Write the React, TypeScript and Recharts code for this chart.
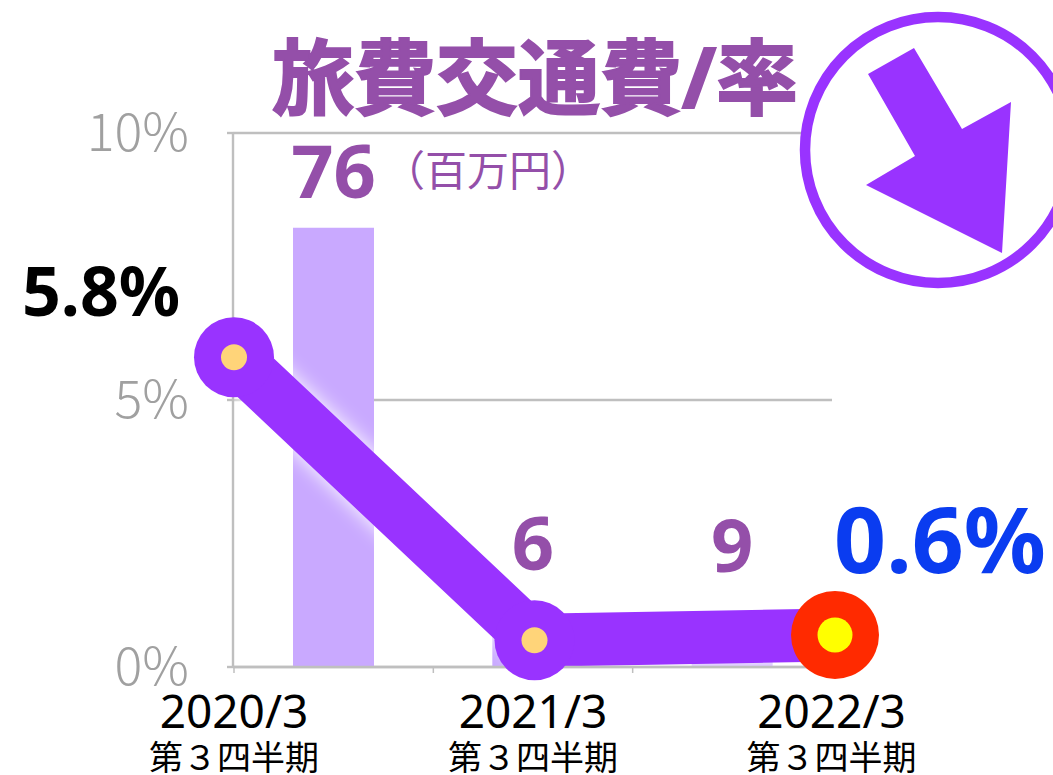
import React from "react";
import { ComposedChart, Bar, Line, XAxis, YAxis, CartesianGrid, LabelList } from "recharts";

const periods = ["2020/3", "2021/3", "2022/3"];
const quarterLabel = "第３四半期";
const expenseMillions = [76, 6, 9];
const ratePercent = [5.8, 0.5, 0.6];
const rateTicks = [0, 5, 10];
const rateLabels = ["5.8%", "", "0.6%"];

const rows = periods.map((period, i) => ({
  period,
  expense: expenseMillions[i],
  rate: ratePercent[i],
  rateLabel: rateLabels[i],
}));

const FONT = "'Noto Sans', 'Noto Sans CJK JP', sans-serif";
const CJK = "'Noto Sans CJK JP', sans-serif";
const PURPLE = "#9933ff";
const TEXT_PURPLE = "#944fa9";
const GRID = "#bfbfbf";

const RateDot = (props: any) => {
  const { cx, cy, index } = props;
  const last = index === periods.length - 1;
  return (
    <g key={index}>
      <circle cx={cx} cy={cy} r={last ? 44 : 40} fill={last ? "#ff2a00" : PURPLE} />
      <circle cx={cx} cy={cy} r={last ? 17.5 : 13} fill={last ? "#ffff00" : "#ffd479"} />
    </g>
  );
};

const ExpenseLabel = (props: any) => {
  const { x, y, width, value, index } = props;
  const rise = [30, 62, 43][index];
  return (
    <text x={x + width / 2} y={y - rise} textAnchor="middle" fontFamily={FONT} fontWeight={700} fontSize={74} fill={TEXT_PURPLE}>
      {value}
    </text>
  );
};

const RateLabel = (props: any) => {
  const { x, y, value, index } = props;
  if (!value) return null;
  const first = index === 0;
  return (
    <text
      x={first ? x - 133 : x + 105}
      y={first ? y - 41 : y - 62}
      textAnchor="middle"
      fontFamily={FONT}
      fontWeight={700}
      fontSize={first ? 68 : 91}
      fill={first ? "#000000" : "#0a3cf0"}
    >
      {value}
    </text>
  );
};

const PeriodTick = (props: any) => {
  const { x, payload, index } = props;
  const tx = x - [0, 1.5, 3.5][index];
  return (
    <g fontFamily={FONT} fill="#000000" textAnchor="middle">
      <text x={tx} y={728} fontSize={46}>{payload.value}</text>
      <text x={tx} y={770} fontFamily={CJK} fontSize={34}>{quarterLabel}</text>
    </g>
  );
};

// The tick at the right-hand end lies under the red end marker, so only each band's left edge is drawn.
const BoundaryTick = (props: any) => {
  const { x, payload } = props;
  const left = x - payload.offset;
  return <line x1={left} x2={left} y1={667} y2={673} stroke={GRID} strokeWidth={1.5} />;
};

export default function App() {
  return (
    <div style={{ position: "absolute", left: 0, top: 0, width: 1053, height: 775, overflow: "hidden", background: "#fff" }}>
      <ComposedChart
        width={1053}
        height={775}
        data={rows}
        margin={{ top: 133, right: 221, bottom: 0, left: 83 }}
        style={{ position: "absolute", left: 0, top: 0 }}
      >
        <CartesianGrid vertical={false} stroke={GRID} strokeWidth={2.4} yAxisId="rate" xAxisId="barAxis" />
        <XAxis
          xAxisId="barAxis"
          dataKey="period"
          height={1}
          tick={<BoundaryTick />}
          tickLine={false}
          interval={0}
          padding={{ left: 1, right: 0 }}
          axisLine={{ stroke: GRID, strokeWidth: 2.4 }}
        />
        <XAxis
          xAxisId="rateAxis"
          dataKey="period"
          scale="point"
          padding={{ left: 1, right: -3 }}
          height={107}
          axisLine={false}
          tickLine={false}
          tick={<PeriodTick />}
          interval={0}
        />
        <YAxis
          yAxisId="rate"
          width={150}
          domain={[0, 10]}
          ticks={rateTicks}
          tickFormatter={(v: number) => `${v}%`}
          tick={{ fill: "#a0a0a0", fontSize: 52, fontFamily: CJK, fontWeight: 300 }}
          tickSize={6}
          tickMargin={38}
          tickLine={{ stroke: GRID, strokeWidth: 2.4 }}
          axisLine={{ stroke: GRID, strokeWidth: 2.4 }}
        />
        <YAxis yAxisId="expense" hide width={0} domain={[0, 92.4]} />
        <Bar xAxisId="barAxis" yAxisId="expense" dataKey="expense" barSize={81} fill="#c9a9ff" isAnimationActive={false}>
          <LabelList dataKey="expense" content={<ExpenseLabel />} />
        </Bar>
        <Line
          xAxisId="rateAxis"
          yAxisId="rate"
          dataKey="rate"
          stroke={PURPLE}
          strokeWidth={53}
          dot={<RateDot />}
          activeDot={false}
          isAnimationActive={false}
          style={{ filter: "drop-shadow(0 0 10px #ffffff)" }}
        >
          <LabelList dataKey="rateLabel" content={<RateLabel />} />
        </Line>
      </ComposedChart>
      <svg width={1053} height={775} style={{ position: "absolute", left: 0, top: 0, pointerEvents: "none" }}>
        <text x={272} y={108} fontFamily={FONT} fontWeight={700} fontSize={82} fill={TEXT_PURPLE} stroke={TEXT_PURPLE} strokeWidth={2}>旅費交通費/率</text>
        <text x={383} y={186} fontFamily={CJK} fontSize={42} fill={TEXT_PURPLE}>（百万円）</text>
        <circle cx={938} cy={150} r={133} fill="#ffffff" stroke={PURPLE} strokeWidth={10.5} />
        <polygon points="914,48 962,129 1011,102 1002,253 866,185 915,156 868,74" fill={PURPLE} />
      </svg>
    </div>
  );
}
